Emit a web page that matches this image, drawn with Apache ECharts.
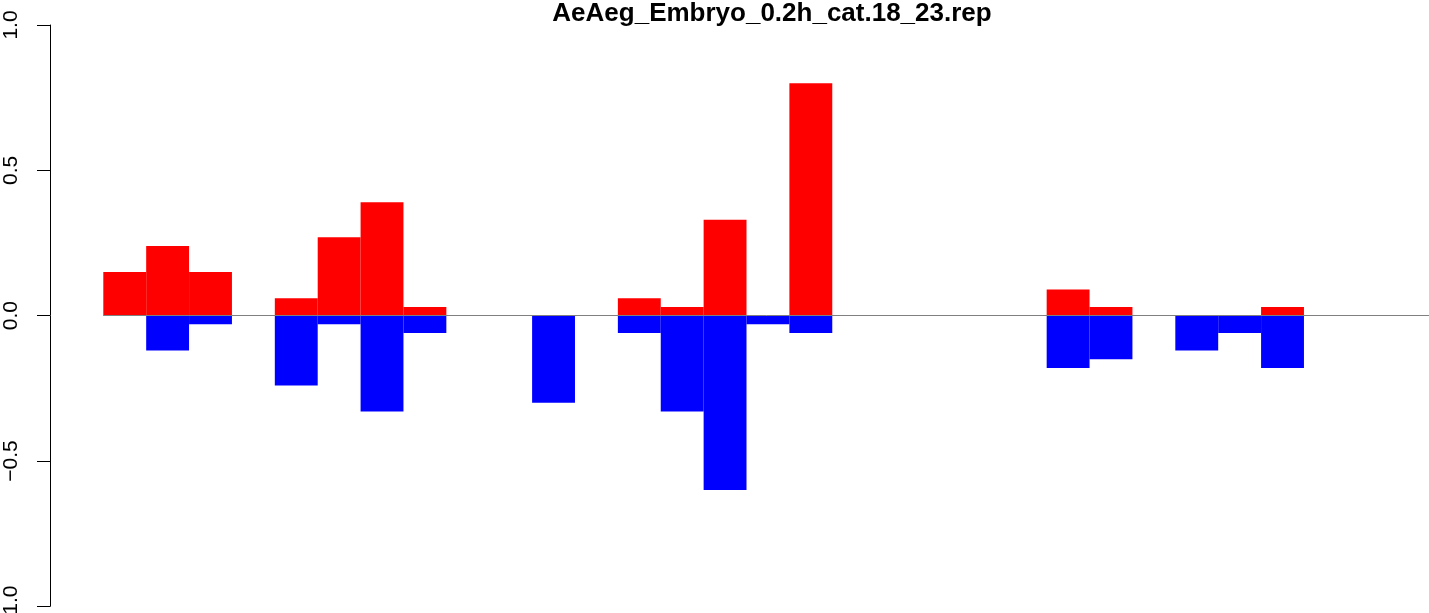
<!DOCTYPE html>
<html>
<head>
<meta charset="utf-8">
<script src="https://cdn.jsdelivr.net/npm/echarts@6/dist/echarts.min.js"></script>
<style>
html,body{margin:0;padding:0;background:#fff;overflow:hidden;}
#chart{width:1429px;height:613px;}
</style>
</head>
<body>
<div id="chart"></div>
<script>
const titleText = 'AeAeg_Embryo_0.2h_cat.18_23.rep';
const categories = ['1','2','3','4','5','6','7','8','9','10','11','12','13','14','15','16','17','18','19','20','21','22','23','24','25','26','27','28','29','30','31'];
const upValues = [0.15,0.24,0.15,0,0.06,0.27,0.39,0.03,0,0,0,0,0.06,0.03,0.33,0,0.80,0,0,0,0,0,0.09,0.03,0,0,0,0.03,0,0,0];
const downValues = [0,-0.12,-0.03,0,-0.24,-0.03,-0.33,-0.06,0,0,-0.30,0,-0.06,-0.33,-0.60,-0.03,-0.06,0,0,0,0,0,-0.18,-0.15,0,-0.12,-0.06,-0.18,0,0,0];
const yTicks = [-1, -0.5, 0, 0.5, 1];

const chart = echarts.init(document.getElementById('chart'), null, {renderer: 'canvas', width: 1429, height: 613});
const font = '"Liberation Sans", Arial, Helvetica, sans-serif';
chart.setOption({
  animation: false,
  backgroundColor: '#ffffff',
  title: {
    text: titleText,
    left: 767,
    textAlign: 'center',
    top: -4,
    textStyle: {fontFamily: font, fontWeight: 'bold', fontSize: 26, color: '#000'}
  },
  grid: {left: 103.3, width: 1329.3, top: 25, height: 581.3, containLabel: false, outerBoundsMode: 'none'},
  xAxis: {
    type: 'category',
    data: categories,
    boundaryGap: true,
    show: false
  },
  yAxis: {
    type: 'value',
    min: yTicks[0],
    max: yTicks[yTicks.length - 1],
    interval: 0.5,
    offset: 53.3,
    axisLine: {show: true, lineStyle: {color: '#000', width: 1}},
    axisTick: {show: true, length: 13, lineStyle: {color: '#000', width: 1}},
    splitLine: {show: false},
    axisLabel: {
      rotate: 90,
      margin: 28,
      fontFamily: font,
      fontSize: 21,
      color: '#000',
      formatter: v => (v < 0 ? '\u2212' : '') + Math.abs(v).toFixed(1)
    }
  },
  series: [
    {
      type: 'line',
      data: [],
      z: 1,
      markLine: {
        silent: true,
        symbol: 'none',
        label: {show: false},
        lineStyle: {color: '#808080', width: 1, type: 'solid'},
        data: [{yAxis: 0}]
      }
    },
    {
      name: 'up',
      type: 'bar',
      data: upValues,
      barWidth: '100%',
      barGap: '-100%',
      z: 2,
      itemStyle: {color: '#ff0000'}
    },
    {
      name: 'down',
      type: 'bar',
      data: downValues,
      barWidth: '100%',
      barGap: '-100%',
      z: 2,
      itemStyle: {color: '#0000ff'}
    }
  ]
});
</script>
</body>
</html>
